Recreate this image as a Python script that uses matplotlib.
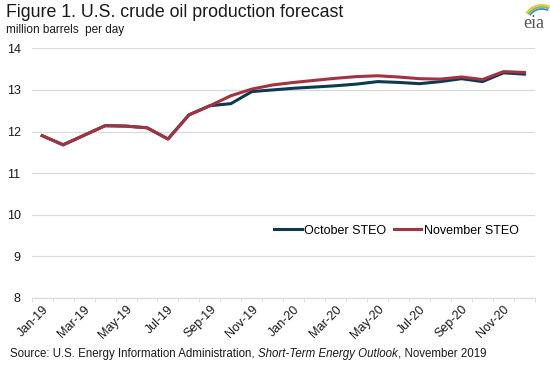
"""Figure 1: U.S. crude oil production forecast, October vs November STEO."""

import matplotlib

matplotlib.use("Agg")
import matplotlib.pyplot as plt
from matplotlib.patches import Arc

months = ["Jan-19", "Feb-19", "Mar-19", "Apr-19", "May-19", "Jun-19",
          "Jul-19", "Aug-19", "Sep-19", "Oct-19", "Nov-19", "Dec-19",
          "Jan-20", "Feb-20", "Mar-20", "Apr-20", "May-20", "Jun-20",
          "Jul-20", "Aug-20", "Sep-20", "Oct-20", "Nov-20", "Dec-20"]

october_steo = [11.90, 11.68, 11.91, 12.14, 12.13, 12.09, 11.82, 12.40,
                12.62, 12.67, 12.96, 13.00, 13.04, 13.07, 13.10, 13.14,
                13.20, 13.18, 13.15, 13.20, 13.27, 13.20, 13.41, 13.38]

november_steo = [11.90, 11.68, 11.91, 12.14, 12.13, 12.09, 11.82, 12.40,
                 12.62, 12.86, 13.02, 13.12, 13.18, 13.23, 13.28, 13.32,
                 13.34, 13.31, 13.27, 13.26, 13.31, 13.25, 13.44, 13.42]

tick_labels = months[::2]
y_ticks = [8, 9, 10, 11, 12, 13, 14]

BLUE = "#0b3a52"
RED = "#a33340"
GRID = "#d9d9d9"
TEXT = "#1a1a1a"

plt.rcParams["font.family"] = ["Liberation Sans", "DejaVu Sans"]

fig = plt.figure(figsize=(5.5, 3.66), dpi=100)
ax = fig.add_axes([0.0576, 0.186, 0.915, 0.682])

x = list(range(len(months)))
ax.plot(x, october_steo, color=BLUE, lw=2.2, label="October STEO", zorder=2)
ax.plot(x, november_steo, color=RED, lw=2.2, label="November STEO", zorder=3)

ax.set_xlim(-0.5, len(months) - 0.5)
ax.set_ylim(8, 14)
ax.set_yticks(y_ticks)
ax.set_yticklabels([str(v) for v in y_ticks])
ax.grid(axis="y", color=GRID, lw=0.9)
ax.set_axisbelow(True)

ax.set_xticks(x[::2])
ax.set_xticklabels(tick_labels, rotation=45, ha="right", rotation_mode="anchor")
ax.set_xticks([i - 0.5 for i in range(len(months) + 1)], minor=True)
ax.tick_params(axis="x", which="major", length=0, pad=4, labelsize=9, colors=TEXT)
ax.tick_params(axis="x", which="minor", length=3, color=GRID)
ax.tick_params(axis="y", length=0, pad=8, labelsize=9, colors=TEXT)

for side in ["top", "right", "left"]:
    ax.spines[side].set_visible(False)
ax.spines["bottom"].set_color(GRID)

ax.legend(loc="lower right", bbox_to_anchor=(0.99, 0.2), ncol=2, frameon=False,
          fontsize=9, handlelength=2.2, handletextpad=0.2, columnspacing=0.6)

fig.text(0.011, 0.99, "Figure 1. U.S. crude oil production forecast",
         fontsize=12.8, color=TEXT, va="top")
fig.text(0.011, 0.935, "million barrels  per day", fontsize=8.5, color=TEXT, va="top")

# source line: plain, italic report name, plain
src_y = 0.017
src_size = 8.3
fig.canvas.draw()
r = fig.canvas.get_renderer()
t1 = fig.text(0.019, src_y, "Source: U.S. Energy Information Administration, ",
              fontsize=src_size, color=TEXT, va="bottom")
b1 = t1.get_window_extent(r)
t2 = fig.text(b1.x1 / 550, src_y, "Short-Term Energy Outlook", fontsize=src_size,
              color=TEXT, style="italic", va="bottom")
b2 = t2.get_window_extent(r)
fig.text(b2.x1 / 550, src_y, ", November 2019", fontsize=src_size, color=TEXT,
         va="bottom")

# eia logo: grey wordmark with three coloured swooshes above it
fig.text(0.971, 0.935, "eia", fontsize=13, color="#555555", ha="center",
         va="center", family=["Liberation Serif", "DejaVu Serif"])
for col, w, h in [("#f2c12e", 0.065, 0.093), ("#7fbf4d", 0.058, 0.082),
                  ("#3a8fc7", 0.051, 0.071)]:
    fig.add_artist(Arc((0.985, 0.94), w, h, theta1=70, theta2=140,
                       transform=fig.transFigure, color=col, lw=1.3))

fig.savefig("out.png", dpi=100)
